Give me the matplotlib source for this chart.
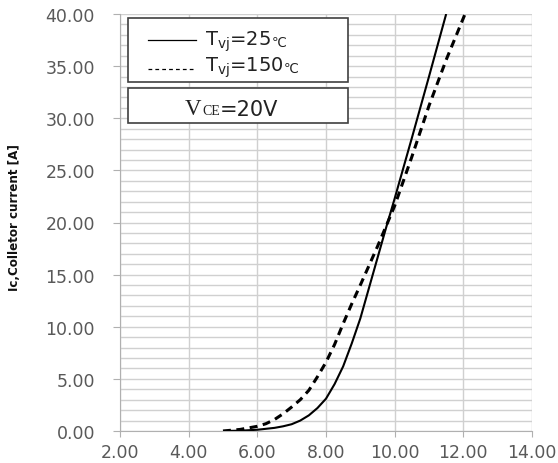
import matplotlib
matplotlib.use("Agg")
import matplotlib.pyplot as plt
from matplotlib.patches import Rectangle
from matplotlib.lines import Line2D
from matplotlib.ticker import MultipleLocator, FormatStrFormatter

# Data
vge_25 = [5.0, 5.5, 6.0, 6.5, 6.75, 7.0, 7.25, 7.5, 7.75, 8.0, 8.25, 8.5, 8.75,
          9.0, 9.25, 9.5, 9.75, 10.0, 10.5, 11.0, 11.5]
ic_25 = [0.0, 0.03, 0.12, 0.3, 0.45, 0.65, 1.0, 1.5, 2.2, 3.1, 4.5, 6.2, 8.4,
         10.8, 13.7, 16.6, 19.5, 22.3, 28.1, 34.0, 40.0]
vge_150 = [5.0, 5.5, 6.0, 6.25, 6.5, 6.75, 7.0, 7.25, 7.5, 7.75, 8.0, 8.25, 8.5,
           8.75, 9.0, 9.5, 10.0, 10.5, 11.0, 11.5, 12.0, 12.2]
ic_150 = [0.0, 0.15, 0.45, 0.7, 1.1, 1.65, 2.3, 3.0, 3.9, 5.2, 6.6, 8.3, 10.3,
          12.2, 14.0, 17.7, 21.6, 26.3, 31.2, 35.6, 39.6, 41.2]

legend_labels = ["25", "150"]
vce_label = "=20V"
ylabel = "Ic,Colletor current [A]"

fig = plt.figure(figsize=(5.58, 4.64), dpi=100)
ax = fig.add_axes([120/558, 32/464, 412/558, 417/464])

grid_c = "#d0d0d0"
spine_c = "#b0b0b0"
tick_c = "#595959"

ax.plot(vge_25, ic_25, color="black", lw=1.5, solid_capstyle="butt", zorder=3)
ax.plot(vge_150, ic_150, color="black", lw=2.2, linestyle=(0, (2.6, 1.8)), zorder=3)

ax.set_xlim(2, 14)
ax.set_ylim(0, 40)
ax.xaxis.set_major_locator(MultipleLocator(2))
ax.yaxis.set_major_locator(MultipleLocator(5))
ax.yaxis.set_minor_locator(MultipleLocator(1))
ax.xaxis.set_major_formatter(FormatStrFormatter("%.2f"))
ax.yaxis.set_major_formatter(FormatStrFormatter("%.2f"))

ax.grid(True, which="major", axis="x", color=grid_c, lw=1.0, zorder=0)
ax.grid(True, which="both", axis="y", color=grid_c, lw=1.0, zorder=0)
ax.set_axisbelow(True)

for s in ["top", "right"]:
    ax.spines[s].set_visible(False)
ax.spines["left"].set_color(spine_c)
ax.spines["bottom"].set_color(spine_c)

ax.tick_params(axis="y", which="major", length=5, color=spine_c, pad=13,
               labelsize=12.5, labelcolor=tick_c)
ax.tick_params(axis="y", which="minor", length=0)
ax.tick_params(axis="x", which="major", length=4, color=spine_c, pad=5,
               labelsize=12.5, labelcolor=tick_c)
for lab in ax.get_xticklabels() + ax.get_yticklabels():
    lab.set_family("DejaVu Sans")

fig.text(15/558, 1 - 218/464, ylabel, rotation=90, ha="center", va="center",
         fontsize=9.5, family="DejaVu Sans", fontstretch="condensed",
         fontweight="semibold", color="#111111")

# Legend boxes
box1 = Rectangle((0.0202, 0.8362), 0.5339, 0.1535, transform=ax.transAxes,
                 facecolor="white", edgecolor="#404040", lw=1.2, zorder=5)
box2 = Rectangle((0.0202, 0.7386), 0.5339, 0.0832, transform=ax.transAxes,
                 facecolor="white", edgecolor="#404040", lw=1.2, zorder=5)
ax.add_patch(box1)
ax.add_patch(box2)

ax.add_line(Line2D([0.068, 0.184], [0.938, 0.938], transform=ax.transAxes,
                   color="black", lw=0.9, zorder=6))
ax.add_line(Line2D([0.068, 0.184], [0.868, 0.868], transform=ax.transAxes,
                   color="black", lw=0.9, linestyle=(0, (3, 2.5)), zorder=6))

for lbl, yb in zip(legend_labels, [0.926, 0.863]):
    t = ax.text(0.206, yb, r"T$_{\mathregular{vj}}$=" + lbl, transform=ax.transAxes,
                fontsize=14, family="DejaVu Sans", color="#222222", va="baseline",
                ha="left", zorder=7)
    ax.annotate("\u2103", xy=(1, 0), xycoords=t, xytext=(0.5, 3.2), textcoords="offset points",
                fontsize=9.5, family="DejaVu Sans", color="#222222", va="bottom",
                ha="left", zorder=7)

tv = ax.text(0.158, 0.760, "V", transform=ax.transAxes, fontsize=16.5,
             family="Liberation Serif", color="#222222", va="baseline", ha="left", zorder=7)
tce = ax.annotate("CE", xy=(1, 0), xycoords=tv, xytext=(0.3, 1.3), textcoords="offset points",
                  fontsize=10, family="Liberation Serif", color="#222222",
                  va="bottom", ha="left", zorder=7)
ax.annotate(vce_label, xy=(1, 0), xycoords=tce, xytext=(0, -1.3), textcoords="offset points",
            fontsize=15, family="DejaVu Sans", color="#222222",
            va="bottom", ha="left", zorder=7)

fig.savefig("out.png", dpi=100)
